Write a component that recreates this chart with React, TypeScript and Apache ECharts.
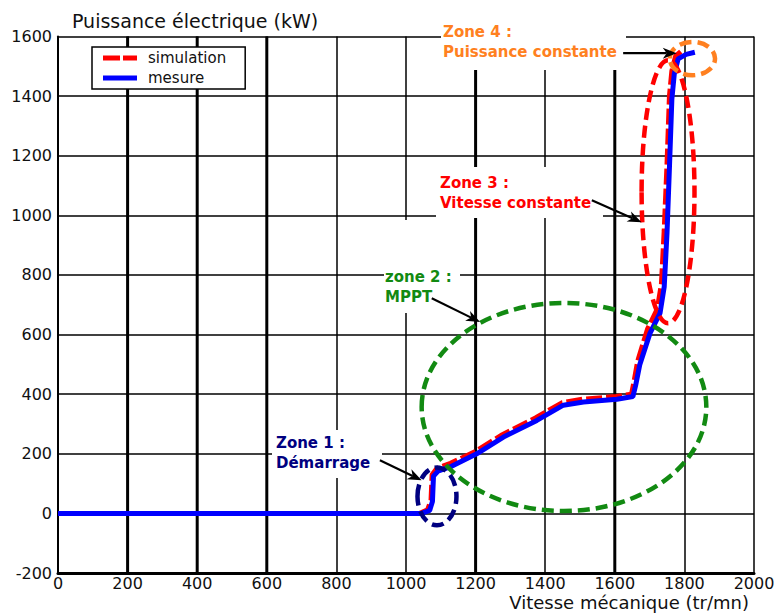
import { useEffect, useRef } from "react";
import * as echarts from "echarts";

// Measured electrical power versus mechanical speed
const speedMesure = [0, 1045, 1068, 1076, 1079, 1092, 1112, 1131, 1203, 1280, 1376, 1452, 1510, 1606, 1652, 1660, 1672, 1701, 1730, 1742, 1750, 1757, 1764, 1771, 1782, 1805, 1830];
const powerMesure = [0, 0, 10, 40, 125, 142, 150, 158, 200, 256, 312, 363, 374, 383, 392, 430, 500, 604, 672, 760, 940, 1160, 1390, 1475, 1525, 1540, 1547];

// Simulated electrical power versus mechanical speed
const speedSimulation = [0, 1040, 1062, 1072, 1075, 1088, 1110, 1128, 1200, 1277, 1372, 1448, 1508, 1604, 1648, 1655, 1666, 1694, 1722, 1734, 1742, 1750, 1757, 1764, 1775, 1790];
const powerSimulation = [0, 0, 12, 45, 130, 150, 160, 168, 208, 264, 320, 371, 383, 392, 400, 440, 512, 618, 685, 770, 950, 1170, 1400, 1485, 1535, 1550];

// Operating zones: centre (tr/mn, kW) and half-axes of the surrounding ellipse
const zoneCenterSpeed = [1089, 1454, 1753, 1823];
const zoneCenterPower = [57, 357, 1079, 1526];
const zoneHalfSpeed = [56, 409, 76, 65];
const zoneHalfPower = [97, 349, 441, 56];
const zoneColors = ["#000080", "#128a12", "#ff0000", "#ff8020"];
const zoneTitles = ["Zone 1 :", "zone 2 :", "Zone 3 :", "Zone 4 :"];
const zoneSubtitles = ["Démarrage", "MPPT", "Vitesse constante", "Puissance constante"];

// Pointer arrows from each zone caption towards its ellipse (tr/mn, kW)
const arrowTailSpeed = [925, 1074, 1534, 1624];
const arrowTailPower = [178, 722, 1051, 1544];
const arrowHeadSpeed = [1045, 1213, 1677, 1778];
const arrowHeadPower = [111, 642, 977, 1544];

// Heavier vertical grid lines
const majorSpeedLines = [200, 400, 600, 1200, 1600];

// Axis titles
const speedTitle = "Vitesse mécanique (tr/mn)";
const powerTitle = "Puissance électrique (kW)";

// Caption layout (pixels): text origin and its white backing box
const captionLayout = [
  { x: 276, y: 433, box: [272, 430, 110, 48] },
  { x: 385, y: 267, box: [384, 220, 76, 93] },
  { x: 440, y: 173, box: [436, 167, 167, 51] },
  { x: 443, y: 22, box: [441, 18, 185, 52] },
];

const FONT = "DejaVu Sans";

export default function App() {
  const ref = useRef<HTMLDivElement>(null);

  useEffect(() => {
    const chart = echarts.init(ref.current as HTMLDivElement, null, { renderer: "svg" });

    const mesure = speedMesure.map((s, i) => [s, powerMesure[i]]);
    const simulation = speedSimulation.map((s, i) => [s, powerSimulation[i]]);
    const zones = zoneCenterSpeed.map((s, i) => [s, zoneCenterPower[i], zoneHalfSpeed[i], zoneHalfPower[i]]);
    const arrows = arrowTailSpeed.map((s, i) => [s, arrowTailPower[i], arrowHeadSpeed[i], arrowHeadPower[i]]);

    const boxes = captionLayout.map((c) => ({
      type: "rect",
      z: 1,
      silent: true,
      shape: { x: c.box[0], y: c.box[1], width: c.box[2], height: c.box[3] },
      style: { fill: "#ffffff" },
    }));
    const captions = captionLayout.map((c, i) => ({
      type: "text",
      z: 10,
      silent: true,
      x: c.x,
      y: c.y,
      style: {
        text: zoneTitles[i] + "\n" + zoneSubtitles[i],
        fill: zoneColors[i],
        font: `bold 15px "${FONT}"`,
        lineHeight: 20,
        align: "left",
        verticalAlign: "top",
      },
    }));
    const speedAxisTitle = {
      type: "text",
      z: 10,
      silent: true,
      x: 749,
      y: 602,
      style: {
        text: speedTitle,
        fill: "#111",
        font: `18px "${FONT}"`,
        align: "right",
        verticalAlign: "middle",
      },
    };

    const plain = (v: number) => String(v);

    chart.setOption({
      animation: false,
      backgroundColor: "#ffffff",
      grid: { left: 58, right: 20, top: 36.5, bottom: 40, containLabel: false, outerBoundsMode: "none" },
      xAxis: {
        type: "value",
        min: 0,
        max: 2000,
        interval: 200,
        axisLine: { show: true, onZero: false, lineStyle: { color: "#000", width: 3 } },
        axisTick: { show: false },
        axisLabel: { margin: 2, color: "#111", fontSize: 16, fontFamily: FONT, formatter: plain },
        splitLine: { show: true, lineStyle: { color: "#000", width: 1.5 } },
      },
      yAxis: {
        type: "value",
        min: -200,
        max: 1600,
        interval: 200,
        name: powerTitle,
        nameLocation: "end",
        nameGap: 16,
        nameTextStyle: {
          fontFamily: FONT,
          fontSize: 19,
          color: "#111",
          align: "left",
          verticalAlign: "middle",
          padding: [0, 0, 0, 14],
        },
        axisLine: { show: true, lineStyle: { color: "#000", width: 2 } },
        axisTick: { show: false },
        axisLabel: { margin: 6, color: "#111", fontSize: 16, fontFamily: FONT, formatter: plain },
        splitLine: { show: true, lineStyle: { color: "#000", width: 1.5 } },
      },
      legend: {
        data: [
          { name: "simulation", icon: "path://M0,0H17V5H0Z M20,0H34V5H20Z" },
          { name: "mesure", icon: "path://M0,0H34V5H0Z" },
        ],
        orient: "vertical",
        left: 92,
        top: 47,
        padding: [3, 19, 3, 11],
        itemWidth: 34,
        itemHeight: 5,
        itemGap: 4,
        backgroundColor: "#ffffff",
        borderColor: "#000",
        borderWidth: 1.5,
        borderRadius: 0,
        z: 6,
        textStyle: { fontFamily: FONT, fontSize: 15, color: "#111", lineHeight: 16, padding: [0, 0, 0, 6] },
      },
      graphic: [...boxes, ...captions, speedAxisTitle],
      series: [
        {
          type: "custom",
          name: "major-grid",
          z: 0,
          silent: true,
          data: majorSpeedLines.map((v) => [v]),
          renderItem: (_params: any, api: any) => {
            const a = api.coord([api.value(0), -200]);
            const b = api.coord([api.value(0), 1600]);
            return {
              type: "line",
              shape: { x1: a[0], y1: a[1], x2: b[0], y2: b[1] },
              style: { stroke: "#000", lineWidth: 3 },
            };
          },
        },
        {
          name: "simulation",
          type: "line",
          data: simulation,
          symbol: "none",
          z: 2,
          silent: true,
          lineStyle: { color: "#ff0000", width: 5, type: [16, 4] },
          itemStyle: { color: "#ff0000" },
        },
        {
          name: "mesure",
          type: "line",
          data: mesure,
          symbol: "none",
          z: 2,
          silent: true,
          lineStyle: { color: "#0000ff", width: 5 },
          itemStyle: { color: "#0000ff" },
        },
        {
          type: "custom",
          name: "zones",
          z: 3,
          silent: true,
          clip: false,
          data: zones,
          renderItem: (params: any, api: any) => {
            const c = api.coord([api.value(0), api.value(1)]);
            const s = api.size([api.value(2), api.value(3)]);
            return {
              type: "ellipse",
              shape: { cx: c[0], cy: c[1], rx: s[0], ry: s[1] },
              style: {
                fill: "none",
                stroke: zoneColors[params.dataIndex],
                lineWidth: 4.5,
                lineDash: [12, 6],
              },
            };
          },
        },
        {
          type: "custom",
          name: "arrows",
          z: 4,
          silent: true,
          clip: false,
          data: arrows,
          renderItem: (_params: any, api: any) => {
            const t = api.coord([api.value(0), api.value(1)]);
            const h = api.coord([api.value(2), api.value(3)]);
            const dx = h[0] - t[0];
            const dy = h[1] - t[1];
            const len = Math.hypot(dx, dy) || 1;
            const ux = dx / len;
            const uy = dy / len;
            const nx = -uy;
            const ny = ux;
            const L = 14;
            const W = 5.5;
            const bx = h[0] - ux * L;
            const by = h[1] - uy * L;
            return {
              type: "group",
              children: [
                {
                  type: "line",
                  shape: { x1: t[0], y1: t[1], x2: bx + ux * 4, y2: by + uy * 4 },
                  style: { stroke: "#000", lineWidth: 2.2 },
                },
                {
                  type: "polygon",
                  shape: {
                    points: [
                      [h[0], h[1]],
                      [bx + nx * W, by + ny * W],
                      [bx + ux * 4, by + uy * 4],
                      [bx - nx * W, by - ny * W],
                    ],
                  },
                  style: { fill: "#000" },
                },
              ],
            };
          },
        },
      ],
    });

    return () => chart.dispose();
  }, []);

  return <div ref={ref} style={{ position: "fixed", left: 0, top: 0, width: 774, height: 613 }} />;
}
